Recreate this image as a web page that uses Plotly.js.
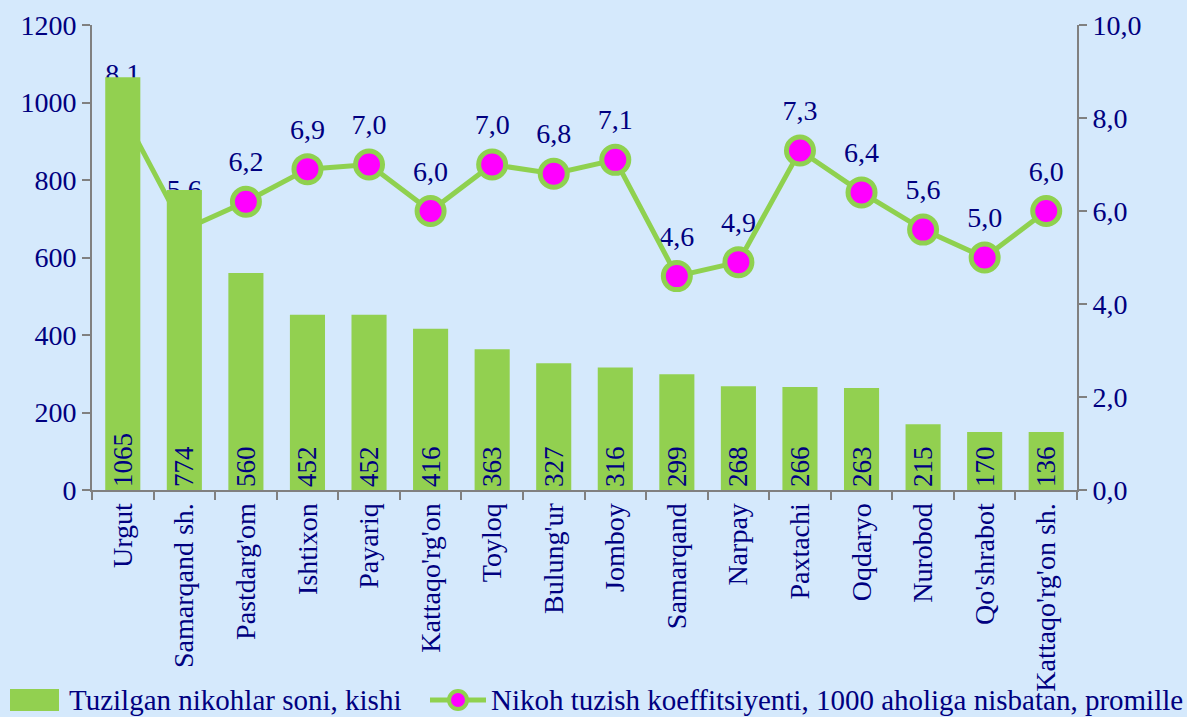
<!DOCTYPE html>
<html>
<head>
<meta charset="utf-8">
<script src="https://cdn.plot.ly/plotly-3.0.1.min.js"></script>
<style>
html,body{margin:0;padding:0;background:#d5e9fc;}
#chart{width:1187px;height:717px;}
</style>
</head>
<body>
<div id="chart"></div>
<script>
const categories = ["Urgut","Samarqand sh.","Pastdarg'om","Ishtixon","Payariq","Kattaqo'rg'on","Toyloq","Bulung'ur","Jomboy","Samarqand","Narpay","Paxtachi","Oqdaryo","Nurobod","Qo'shrabot","Kattaqo'rg'on sh."];
const marriages = [1065,774,560,452,452,416,363,327,316,299,268,266,263,170,150,150];
const marriageLabels = ["1065","774","560","452","452","416","363","327","316","299","268","266","263","215","170","136"];
const rate = [8.1,5.6,6.2,6.9,7.0,6.0,7.0,6.8,7.1,4.6,4.9,7.3,6.4,5.6,5.0,6.0];
const leftTicks = [0,200,400,600,800,1000,1200];
const rightTicks = [0,2,4,6,8,10];
const seriesNames = ["Tuzilgan nikohlar soni, kishi", "Nikoh tuzish koeffitsiyenti, 1000 aholiga nisbatan, promille"];

const navy = "#000080";
const green = "#8fd14f";
const barGreen = "#92d050";
const magenta = "#ff00ff";
const fontFam = "'Liberation Serif', 'Times New Roman', serif";
const fmt = v => v.toFixed(1).replace(".", ",");

const rateLabels = {
  type: "scatter",
  mode: "markers+text",
  x: categories,
  y: rate,
  yaxis: "y",
  text: rate.map(fmt),
  textposition: "top center",
  textfont: {family: fontFam, size: 28, color: navy},
  marker: {size: 36, opacity: 0},
  showlegend: false,
  hoverinfo: "skip",
  cliponaxis: false
};

const lineTrace = {
  type: "scatter",
  mode: "lines+markers",
  name: seriesNames[1],
  x: categories,
  y: rate,
  yaxis: "y",
  line: {color: green, width: 5},
  marker: {color: magenta, size: 27, line: {color: green, width: 5}},
  cliponaxis: false
};

const barTrace = {
  type: "bar",
  name: seriesNames[0],
  x: categories,
  y: marriages,
  yaxis: "y2",
  text: marriageLabels,
  textposition: "inside",
  insidetextanchor: "start",
  textangle: -90,
  constraintext: "none",
  textfont: {family: fontFam, size: 27, color: navy},
  marker: {color: barGreen}
};

// custom legend (paper coordinates: plot area x 92..1077 px, y 25..490 px)
const px = v => (v - 92) / 985;
const py = v => (490 - v) / 465;
const legendShapes = [
  {type: "rect", xref: "paper", yref: "paper", x0: px(10), x1: px(59), y0: py(711), y1: py(689),
   fillcolor: barGreen, line: {width: 0}},
  {type: "line", xref: "paper", yref: "paper", x0: px(430), x1: px(486), y0: py(700), y1: py(700),
   line: {color: green, width: 5}},
  {type: "circle", xref: "paper", yref: "paper", x0: px(449), x1: px(467), y0: py(709), y1: py(691),
   fillcolor: magenta, line: {color: green, width: 4}}
];
const legendAnnotations = [
  {xref: "paper", yref: "paper", x: px(67), y: py(700), xanchor: "left", yanchor: "middle",
   text: seriesNames[0], showarrow: false, font: {family: fontFam, size: 29, color: navy}},
  {xref: "paper", yref: "paper", x: px(489), y: py(700), xanchor: "left", yanchor: "middle",
   text: seriesNames[1], showarrow: false, font: {family: fontFam, size: 29, color: navy}}
];

const layout = {
  width: 1187, height: 717,
  paper_bgcolor: "#d5e9fc",
  plot_bgcolor: "#d5e9fc",
  margin: {l: 92, r: 110, t: 25, b: 227},
  font: {family: fontFam, size: 28, color: navy},
  showlegend: false,
  bargap: 0.43,
  shapes: legendShapes,
  annotations: legendAnnotations,
  xaxis: {
    type: "category",
    range: [-0.5, 15.5],
    tickangle: -90,
    tickson: "boundaries",
    ticks: "outside", ticklen: 8, tickcolor: "#808080", tickwidth: 2,
    showline: true, linecolor: "#808080", linewidth: 2,
    showgrid: false,
    tickfont: {family: fontFam, size: 28, color: navy}
  },
  yaxis: {
    side: "right",
    range: [0, 10],
    tickvals: rightTicks,
    ticktext: rightTicks.map(fmt),
    ticks: "outside", ticklen: 8, tickcolor: "#808080", tickwidth: 2,
    showline: true, linecolor: "#808080", linewidth: 2,
    showgrid: false, zeroline: false,
    tickfont: {family: fontFam, size: 28, color: navy}
  },
  yaxis2: {
    overlaying: "y",
    side: "left",
    range: [0, 1200],
    tickvals: leftTicks,
    ticks: "outside", ticklen: 8, tickcolor: "#808080", tickwidth: 2,
    showline: true, linecolor: "#808080", linewidth: 2,
    showgrid: false, zeroline: false,
    tickfont: {family: fontFam, size: 28, color: navy}
  }
};

Plotly.newPlot("chart", [rateLabels, lineTrace, barTrace], layout, {displayModeBar: false});
</script>
</body>
</html>
